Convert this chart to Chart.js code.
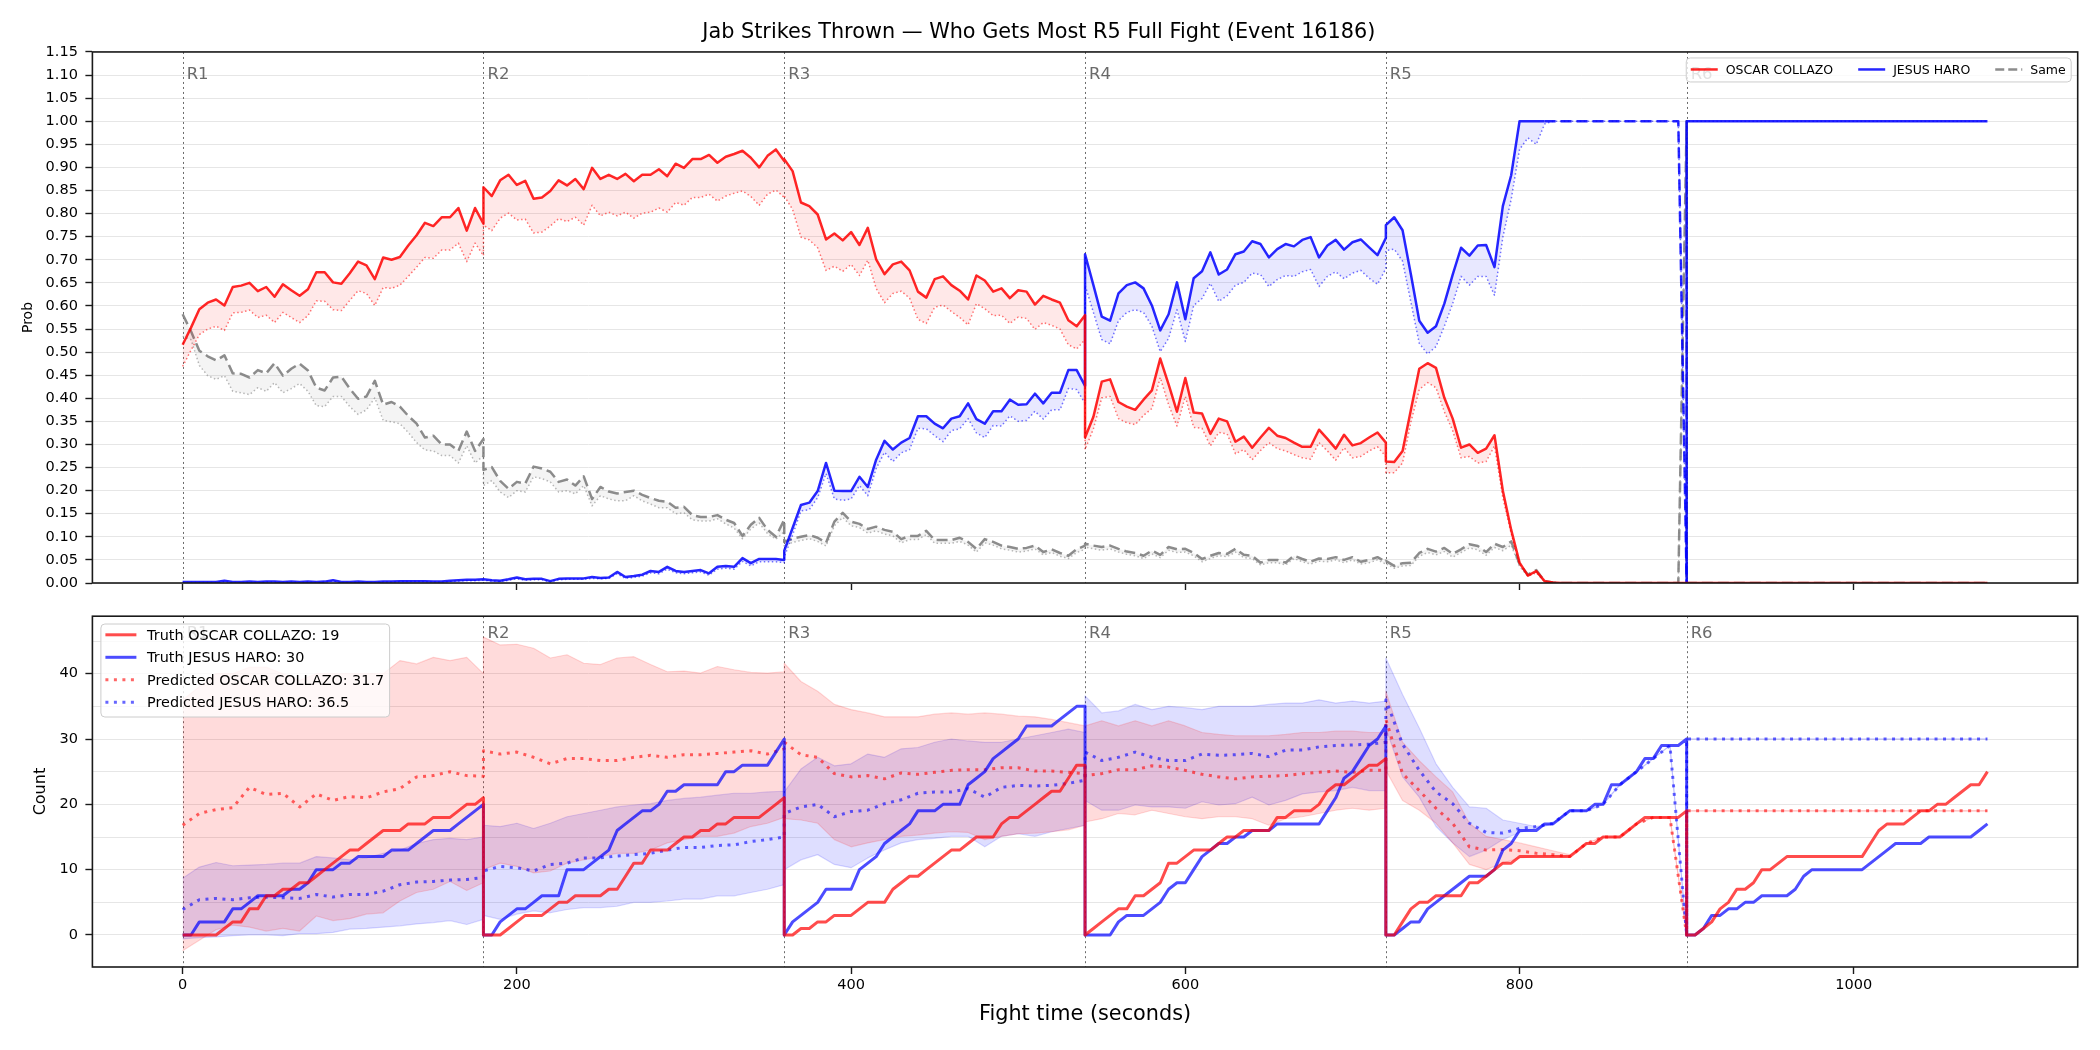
<!DOCTYPE html>
<html>
<head>
<meta charset="utf-8">
<script src="https://cdn.jsdelivr.net/npm/chart.js@4.4.1/dist/chart.umd.min.js"></script>
<style>
  body { margin: 0; background: #fff; width: 2100px; height: 1050px; overflow: hidden; position: relative; }
  canvas { position: absolute; left: 0; }
  #top { top: 0; }
  #bottom { top: 600px; }
</style>
</head>
<body>
<canvas id="top" width="2100" height="600"></canvas>
<canvas id="bottom" width="2100" height="450"></canvas>
<script>
// ---- data ----
const fighters = ['OSCAR COLLAZO', 'JESUS HARO'];
const roundNames = ['R1', 'R2', 'R3', 'R4', 'R5', 'R6'];
const roundStarts = [0, 180, 360, 540, 720, 900];
const xTicks = [0, 200, 400, 600, 800, 1000];
const truthTotals = [19, 30];
const predTotals = [31.7, 36.5];

// win probability, sampled every 5 s inside each round (37 points per round)
const probRed = [
  0.516,0.553,0.593,0.607,0.614,0.601,0.641,0.644,0.650,0.632,0.641,0.620,0.647,0.634,0.622,0.636,0.673,0.673,0.651,0.648,0.671,0.696,0.688,0.658,0.705,0.700,0.706,0.731,0.753,0.780,0.773,0.792,0.792,0.812,0.763,0.812,0.778,
  0.857,0.838,0.872,0.884,0.862,0.871,0.832,0.835,0.849,0.872,0.861,0.875,0.853,0.899,0.875,0.884,0.875,0.886,0.870,0.884,0.884,0.896,0.881,0.908,0.899,0.918,0.918,0.927,0.910,0.923,0.929,0.936,0.921,0.900,0.925,0.939,0.914,
  0.918,0.892,0.824,0.816,0.798,0.744,0.757,0.742,0.760,0.732,0.769,0.701,0.669,0.690,0.696,0.677,0.631,0.618,0.658,0.664,0.645,0.633,0.614,0.666,0.655,0.631,0.638,0.617,0.634,0.631,0.603,0.622,0.614,0.607,0.569,0.556,0.580,
  0.315,0.360,0.436,0.441,0.392,0.382,0.375,0.397,0.417,0.486,0.430,0.371,0.444,0.369,0.367,0.323,0.356,0.350,0.306,0.317,0.293,0.315,0.336,0.319,0.314,0.304,0.295,0.295,0.332,0.312,0.291,0.321,0.298,0.303,0.315,0.326,0.304,
  0.263,0.262,0.286,0.375,0.464,0.476,0.466,0.401,0.356,0.293,0.300,0.282,0.291,0.320,0.200,0.115,0.044,0.016,0.026,0.004,0.001,0,0,0,0,0,0,0,0,0,0,0,0,0,0,0,0,
  0,0,0,0,0,0,0,0,0,0,0,0,0,0,0,0,0,0,0,0,0,0,0,0,0,0,0,0,0,0,0,0,0,0,0,0,0
];
const probRedLow = [
  0.469,0.504,0.538,0.550,0.556,0.547,0.585,0.586,0.591,0.575,0.580,0.564,0.586,0.575,0.564,0.579,0.611,0.610,0.592,0.590,0.612,0.633,0.627,0.601,0.640,0.638,0.645,0.664,0.684,0.705,0.703,0.721,0.721,0.736,0.696,0.736,0.709,
  0.775,0.763,0.790,0.801,0.786,0.788,0.758,0.760,0.773,0.789,0.783,0.792,0.775,0.818,0.795,0.803,0.795,0.803,0.790,0.801,0.803,0.812,0.803,0.824,0.818,0.835,0.835,0.842,0.827,0.838,0.844,0.849,0.837,0.818,0.842,0.851,0.835,
  0.838,0.809,0.749,0.743,0.726,0.677,0.686,0.675,0.690,0.666,0.699,0.638,0.607,0.627,0.632,0.617,0.571,0.562,0.597,0.602,0.588,0.575,0.559,0.605,0.594,0.579,0.580,0.562,0.576,0.573,0.549,0.564,0.558,0.550,0.516,0.507,0.527,
  0.289,0.334,0.401,0.404,0.356,0.347,0.343,0.363,0.378,0.445,0.386,0.340,0.404,0.337,0.335,0.297,0.326,0.323,0.280,0.289,0.267,0.287,0.304,0.291,0.286,0.278,0.271,0.268,0.304,0.286,0.266,0.293,0.271,0.274,0.286,0.295,0.274,
  0.239,0.239,0.260,0.349,0.419,0.434,0.423,0.371,0.330,0.271,0.274,0.260,0.263,0.297,0.185,0.107,0.041,0.015,0.022,0.003,0.001,0,0,0,0,0,0,0,0,0,0,0,0,0,0,0,0,
  0,0,0,0,0,0,0,0,0,0,0,0,0,0,0,0,0,0,0,0,0,0,0,0,0,0,0,0,0,0,0,0,0,0,0,0,0
];
const probBlue = [
  0.002,0.002,0.002,0.002,0.002,0.005,0.002,0.002,0.003,0.002,0.003,0.003,0.002,0.003,0.002,0.003,0.002,0.003,0.006,0.002,0.002,0.003,0.002,0.002,0.003,0.003,0.004,0.004,0.004,0.004,0.003,0.003,0.005,0.006,0.007,0.007,0.008,
  0.008,0.006,0.005,0.008,0.012,0.008,0.009,0.009,0.004,0.009,0.010,0.010,0.010,0.013,0.011,0.012,0.024,0.013,0.015,0.018,0.026,0.024,0.035,0.026,0.024,0.026,0.028,0.021,0.035,0.037,0.035,0.054,0.043,0.052,0.052,0.052,0.050,
  0.070,0.119,0.169,0.174,0.199,0.260,0.200,0.199,0.199,0.230,0.208,0.267,0.308,0.289,0.304,0.314,0.361,0.361,0.345,0.335,0.356,0.361,0.389,0.355,0.345,0.372,0.372,0.397,0.386,0.387,0.410,0.389,0.412,0.412,0.461,0.461,0.427,
  0.712,0.645,0.577,0.568,0.627,0.645,0.651,0.638,0.601,0.547,0.582,0.651,0.571,0.660,0.675,0.716,0.668,0.679,0.712,0.718,0.740,0.734,0.705,0.723,0.734,0.729,0.743,0.749,0.705,0.731,0.743,0.722,0.738,0.744,0.727,0.710,0.747,
  0.775,0.792,0.764,0.668,0.568,0.542,0.556,0.605,0.668,0.726,0.709,0.731,0.732,0.684,0.816,0.883,1,1,1,1,1,1,1,1,1,1,1,1,1,1,1,1,1,1,1,1,0,
  1,1,1,1,1,1,1,1,1,1,1,1,1,1,1,1,1,1,1,1,1,1,1,1,1,1,1,1,1,1,1,1,1,1,1,1,1
];
const probBlueLow = [
  0.001,0.001,0.001,0.001,0.001,0.003,0.001,0.001,0.002,0.001,0.002,0.002,0.001,0.002,0.001,0.002,0.001,0.002,0.004,0.001,0.001,0.002,0.001,0.001,0.002,0.002,0.003,0.003,0.003,0.003,0.002,0.002,0.003,0.004,0.005,0.005,0.006,
  0.006,0.004,0.003,0.006,0.009,0.006,0.007,0.007,0.002,0.007,0.008,0.008,0.008,0.010,0.009,0.010,0.020,0.010,0.012,0.015,0.022,0.020,0.030,0.022,0.020,0.022,0.024,0.017,0.030,0.032,0.030,0.047,0.037,0.046,0.046,0.046,0.044,
  0.056,0.104,0.156,0.159,0.185,0.237,0.182,0.179,0.182,0.211,0.189,0.248,0.283,0.263,0.282,0.289,0.335,0.334,0.319,0.306,0.330,0.334,0.356,0.325,0.315,0.341,0.340,0.362,0.350,0.352,0.372,0.355,0.375,0.375,0.421,0.419,0.389,
  0.645,0.586,0.527,0.518,0.568,0.586,0.592,0.586,0.556,0.501,0.530,0.592,0.523,0.601,0.616,0.649,0.610,0.622,0.645,0.651,0.671,0.668,0.642,0.657,0.666,0.664,0.674,0.679,0.642,0.664,0.674,0.659,0.671,0.677,0.660,0.647,0.681,
  0.720,0.723,0.697,0.608,0.519,0.496,0.512,0.556,0.605,0.664,0.645,0.664,0.664,0.623,0.749,0.831,0.939,0.964,0.950,0.994,1,1,1,1,1,1,1,1,1,1,1,1,1,1,1,1,0,
  1,1,1,1,1,1,1,1,1,1,1,1,1,1,1,1,1,1,1,1,1,1,1,1,1,1,1,1,1,1,1,1,1,1,1,1,1
];
const probSame = [
  0.582,0.545,0.503,0.491,0.482,0.493,0.454,0.453,0.445,0.461,0.454,0.476,0.449,0.464,0.475,0.460,0.423,0.417,0.445,0.447,0.421,0.399,0.404,0.438,0.386,0.392,0.382,0.362,0.345,0.315,0.319,0.300,0.300,0.286,0.328,0.286,0.312,
  0.245,0.251,0.221,0.204,0.219,0.215,0.252,0.248,0.241,0.219,0.224,0.211,0.231,0.182,0.208,0.198,0.194,0.197,0.200,0.191,0.184,0.178,0.176,0.163,0.165,0.147,0.143,0.143,0.147,0.137,0.130,0.102,0.126,0.141,0.115,0.100,0.137,
  0.089,0.096,0.100,0.104,0.098,0.087,0.133,0.152,0.133,0.128,0.117,0.122,0.115,0.111,0.095,0.102,0.102,0.113,0.093,0.093,0.093,0.098,0.089,0.074,0.095,0.089,0.081,0.078,0.074,0.076,0.081,0.067,0.073,0.065,0.059,0.073,0.081,
  0.085,0.081,0.078,0.081,0.074,0.068,0.065,0.059,0.070,0.061,0.078,0.073,0.074,0.065,0.052,0.059,0.065,0.063,0.074,0.061,0.059,0.044,0.050,0.050,0.044,0.059,0.052,0.046,0.053,0.052,0.056,0.050,0.056,0.046,0.050,0.056,0.046,
  0.048,0.037,0.043,0.044,0.065,0.074,0.068,0.076,0.063,0.073,0.084,0.080,0.067,0.085,0.078,0.090,0.041,0.018,0.028,0.004,0.001,0,0,0,0,0,0,0,0,0,0,0,0,0,0,0,1,
  0,0,0,0,0,0,0,0,0,0,0,0,0,0,0,0,0,0,0,0,0,0,0,0,0,0,0,0,0,0,0,0,0,0,0,0,0
];
const probSameLow = [
  0.534,0.527,0.471,0.449,0.441,0.449,0.415,0.412,0.408,0.423,0.415,0.434,0.412,0.421,0.432,0.415,0.384,0.382,0.404,0.404,0.382,0.365,0.375,0.401,0.352,0.349,0.345,0.326,0.304,0.288,0.286,0.276,0.276,0.260,0.297,0.260,0.276,
  0.211,0.222,0.197,0.185,0.200,0.197,0.230,0.226,0.219,0.197,0.200,0.193,0.211,0.167,0.189,0.182,0.178,0.178,0.189,0.178,0.171,0.163,0.163,0.150,0.152,0.137,0.134,0.134,0.139,0.128,0.119,0.096,0.117,0.130,0.107,0.095,0.111,
  0.080,0.088,0.092,0.096,0.090,0.080,0.124,0.142,0.124,0.120,0.108,0.113,0.106,0.102,0.087,0.094,0.094,0.105,0.086,0.086,0.086,0.090,0.082,0.067,0.087,0.082,0.074,0.071,0.067,0.069,0.074,0.061,0.066,0.058,0.053,0.066,0.073,
  0.078,0.074,0.071,0.074,0.067,0.062,0.059,0.053,0.063,0.055,0.071,0.066,0.067,0.059,0.046,0.053,0.059,0.057,0.067,0.055,0.053,0.039,0.044,0.044,0.039,0.053,0.046,0.041,0.047,0.046,0.050,0.044,0.050,0.041,0.044,0.050,0.041,
  0.042,0.032,0.037,0.038,0.058,0.066,0.061,0.068,0.056,0.066,0.076,0.072,0.060,0.077,0.070,0.082,0.036,0.015,0.024,0.003,0.001,0,0,0,0,0,0,0,0,0,0,0,0,0,0,0,1,
  0,0,0,0,0,0,0,0,0,0,0,0,0,0,0,0,0,0,0,0,0,0,0,0,0,0,0,0,0,0,0,0,0,0,0,0,0
];

// actual jab counts within each round, every 5 s
const truthRed = [
  0,0,0,0,0,1,2,2,4,4,6,6,7,7,8,8,9,10,11,12,13,13,14,15,16,16,16,17,17,17,18,18,18,19,20,20,21,
  0,0,0,1,2,3,3,3,4,5,5,6,6,6,6,7,7,9,11,11,13,13,13,14,15,15,16,16,17,17,18,18,18,18,19,20,21,
  0,0,1,1,2,2,3,3,3,4,5,5,5,7,8,9,9,10,11,12,13,13,14,15,15,15,17,18,18,19,20,21,22,22,24,26,26,
  0,1,2,3,4,4,6,6,7,8,11,11,12,13,13,13,14,15,15,16,16,16,16,18,18,19,19,19,20,22,23,23,24,25,26,26,27,
  0,0,2,4,5,5,6,6,6,6,8,8,9,10,11,11,12,12,12,12,12,12,12,13,14,14,15,15,15,16,17,18,18,18,18,18,19,
  0,0,1,2,4,5,7,7,8,10,10,11,12,12,12,12,12,12,12,12,12,12,14,16,17,17,17,18,19,19,20,20,21,22,23,23,25
];
const truthBlue = [
  0,0,2,2,2,2,4,4,5,6,6,6,6,7,7,8,10,10,10,11,11,12,12,12,12,13,13,13,14,15,16,16,16,17,18,19,20,
  0,0,2,3,4,4,5,6,6,6,10,10,10,11,12,13,16,17,18,19,19,20,22,22,23,23,23,23,23,25,25,26,26,26,26,28,30,
  0,2,3,4,5,7,7,7,7,10,11,12,14,15,16,17,19,19,19,20,20,20,23,24,25,27,28,29,30,32,32,32,32,33,34,35,35,
  0,0,0,0,2,3,3,3,4,5,7,8,8,10,12,13,14,14,15,15,16,16,16,17,17,17,17,17,17,19,21,24,25,27,29,30,32,
  0,0,1,2,2,4,5,6,7,8,9,9,9,10,13,14,16,16,16,17,17,18,19,19,19,20,20,23,23,24,25,27,27,29,29,29,30,
  0,0,1,3,3,4,4,5,5,6,6,6,6,7,9,10,10,10,10,10,10,10,11,12,13,14,14,14,14,15,15,15,15,15,15,16,17
];

// predicted counts and their bands, every 10 s (19 points per round)
const predRed = [
  16.8,18.6,19.2,19.5,22.6,21.5,21.7,19.6,21.6,20.6,21.2,21.0,21.9,22.4,24.2,24.4,25.0,24.4,24.3,
  28.2,27.7,28.0,27.2,26.2,27.0,27.0,26.7,26.7,27.2,27.5,27.2,27.6,27.6,27.8,28.0,28.2,27.7,28.5,
  29.5,27.6,27.2,24.7,24.2,24.4,23.9,24.8,24.6,24.9,25.2,25.3,25.3,25.6,25.6,25.1,25.1,24.9,24.7,
  24.4,24.7,25.3,25.3,25.9,25.7,25.2,24.6,24.2,23.9,24.2,24.3,24.4,24.7,24.9,25.1,24.9,25.2,25.2,
  33.0,24.7,22.1,19.4,17.1,13.5,13.0,13.1,12.9,12.5,12.3,12.0,14,15,15,17,18,18,0,
  19,19,19,19,19,19,19,19,19,19,19,19,19,19,19,19,19,19,19
];
const predBlue = [
  3.9,5.4,5.6,5.4,5.7,5.8,5.7,5.6,6.2,5.8,6.2,6.2,6.7,7.7,8.1,8.2,8.4,8.5,8.8,
  9.8,10.5,10.3,9.8,10.8,11.0,11.8,11.8,12.1,12.3,12.5,13.0,13.4,13.4,13.7,13.8,14.3,14.6,15.0,
  18.6,19.6,20.0,18.1,18.9,19.1,20.1,20.7,21.7,21.9,21.9,22.4,21.1,22.6,22.9,22.8,22.9,23.2,23.7,
  28.0,26.7,27.2,28.0,27.2,26.7,26.7,27.7,27.5,27.6,27.8,27.3,28.3,28.3,28.8,29.0,29.1,29.2,29.5,
  36.0,29.2,25.2,21.9,20.1,17.1,15.7,15.6,16.3,16.6,17.1,19.0,19,20,23,25,27,29,0,
  30,30,30,30,30,30,30,30,30,30,30,30,30,30,30,30,30,30,30
];
const bandRedHi = [
  36,38,40,40,41,41,40,39,40,40,40,40,40,42,41.5,42.5,42,42.5,40,
  45.6,44.4,44.5,43.9,42.4,42.9,41.6,41.4,42.4,42.6,41.4,40.3,40.4,40.1,41.1,40.6,40.2,40.1,40.3,
  41.6,38.8,37.3,35.3,34.5,34.0,33.4,33.4,33.4,33.8,34.0,33.8,34.0,33.8,33.5,33.4,33.0,32.5,32.0,
  32.0,32.8,32.0,32.8,32.0,32.8,32.0,31.0,30.7,30.5,30.5,30.5,30.7,31.0,31.0,31.2,31.2,31.0,31.0,
  37.3,29.5,26.7,24.2,21.9,17.1,15.1,14.6,14.1,13.5,12.9,12.3,14,15,15,17,18,18,0,
  19,19,19,19,19,19,19,19,19,19,19,19,19,19,19,19,19,19,19
];
const bandRedLo = [
  -2.4,-0.8,0.8,1.5,1.2,0.6,1.0,0.6,2.9,2.2,2.5,3.2,3.4,5.2,6.5,7.0,8.2,6.8,8.0,
  10.0,11.0,10.5,9.5,9.8,11.0,11.5,12.0,12.5,12.5,13.0,14.1,14.6,15.1,15.1,15.6,16.6,17.1,18.0,
  17.8,17.6,17.1,14.6,13.5,14.1,14.6,15.1,15.3,15.6,15.8,15.7,14.6,15.1,15.5,15.6,15.8,16.1,16.8,
  17.3,17.8,18.6,18.4,19.1,18.6,18.1,17.8,18.1,18.1,17.8,16.8,17.8,18.1,18.6,19.1,19.4,19.1,19.4,
  25.2,20.6,19.1,17.1,14.1,10.8,10.0,11.0,11.8,12.0,12.0,12.0,14,15,15,17,18,18,0,
  19,19,19,19,19,19,19,19,19,19,19,19,19,19,19,19,19,19,19
];
const bandBlueHi = [
  8.7,10.4,11.1,10.6,10.7,10.8,11.0,11.0,12.0,11.8,11.5,11.8,12.5,13.0,14.0,14.6,14.8,14.6,15.0,
  16.8,16.6,17.1,16.3,17.1,18.1,18.6,19.1,19.6,19.9,20.1,20.6,20.9,21.1,21.4,21.7,21.7,21.9,22.0,
  21.9,25.4,27.2,25.9,26.2,27.7,27.2,28.5,28.7,29.5,30.0,29.7,29.5,29.5,30.0,30.5,31.0,31.5,31.0,
  36.6,34.0,34.3,35.3,34.5,35.0,34.8,34.5,35.0,35.0,35.0,35.3,35.5,35.5,36.0,35.5,35.8,35.5,35.8,
  42.4,36.8,31.7,26.2,22.6,19.6,19.4,17.6,17.1,16.6,17.1,19.1,19,20,23,25,27,29,0,
  30,30,30,30,30,30,30,30,30,30,30,30,30,30,30,30,30,30,30
];
const bandBlueLo = [
  -0.6,-0.4,-0.3,-0.1,0,0,-0.1,0.2,0.2,0.4,0.9,1.0,1.2,1.4,1.7,1.9,2.2,1.6,2.4,
  3.0,2.4,3.2,3.7,3.4,3.9,4.2,4.2,4.4,5.0,5.0,5.2,5.5,5.5,6.0,6.0,6.5,7.0,7.7,
  10.0,11.5,12.3,10.8,10.3,11.8,13.0,14.1,14.6,14.8,15.1,15.1,13.5,15.1,15.5,15.1,15.8,16.3,16.8,
  20.6,19.1,19.1,19.9,19.6,19.6,19.4,20.4,19.9,20.1,21.1,19.9,20.6,21.6,21.9,22.1,22.6,22.1,22.1,
  31.7,24.2,21.1,16.6,14.1,12.0,13.0,14.6,15.7,16.3,17.0,19.1,19,20,23,25,27,29,0,
  30,30,30,30,30,30,30,30,30,30,30,30,30,30,30,30,30,30,30
];

// ---- helpers ----
const FONT = 'DejaVu Sans';
Chart.defaults.font.family = FONT;
Chart.defaults.color = '#000';

const t5 = roundStarts.flatMap(s => Array.from({length: 37}, (_, k) => s + 5 * k));
const t10 = roundStarts.flatMap(s => Array.from({length: 19}, (_, k) => s + 10 * k));
const pts = (ts, ys) => ys.map((y, i) => ({x: ts[i], y}));
const r6First = 5 * 37;

function line(label, ts, ys, color, width, dash, extra) {
  return Object.assign({
    label, data: pts(ts, ys), borderColor: color, borderWidth: width,
    borderDash: dash || [], pointRadius: 0, tension: 0, fill: false,
    borderJoinStyle: 'round'
  }, extra || {});
}

const roundLines = {
  id: 'roundLines',
  beforeDatasetsDraw(chart) {
    const {ctx, chartArea: a, scales: {x}} = chart;
    ctx.save();
    ctx.strokeStyle = 'rgba(70,70,70,0.8)';
    ctx.lineWidth = 1;
    ctx.setLineDash([2, 3]);
    roundStarts.forEach(t => {
      const px = Math.round(x.getPixelForValue(t)) + 0.5;
      ctx.beginPath(); ctx.moveTo(px, a.top); ctx.lineTo(px, a.bottom); ctx.stroke();
    });
    ctx.restore();
  },
  afterDatasetsDraw(chart, args, o) {
    const {ctx, chartArea: a, scales: {x}} = chart;
    ctx.save();
    ctx.font = '16.5px "' + FONT + '"';
    ctx.fillStyle = 'rgba(90,90,90,0.9)';
    ctx.textBaseline = 'middle';
    roundStarts.forEach((t, i) => ctx.fillText(roundNames[i], x.getPixelForValue(t) + 4, a.top + o.dy));
    ctx.restore();
  }
};

const boxLegend = {
  id: 'boxLegend',
  afterDatasetsDraw(chart, args, o) {
    const {ctx, chartArea: a} = chart;
    ctx.save();
    ctx.font = o.size + 'px "' + FONT + '"';
    const widths = o.items.map(it => ctx.measureText(it.label).width);
    let w;
    if (o.row) w = o.pad * 2 + widths.reduce((s, tw) => s + o.handle + o.gap + tw, 0) + o.colGap * (o.items.length - 1);
    else w = o.pad * 2 + o.handle + o.gap + Math.max(...widths);
    const h = o.height;
    const left = o.right != null ? a.right - o.right - w : a.left + o.left;
    const top = a.top + o.top;
    ctx.beginPath();
    ctx.roundRect(left + 0.5, top + 0.5, w, h, 4);
    ctx.fillStyle = 'rgba(255,255,255,0.8)';
    ctx.fill();
    ctx.strokeStyle = '#cccccc';
    ctx.lineWidth = 1;
    ctx.stroke();
    ctx.textBaseline = 'middle';
    let x = left + o.pad;
    o.items.forEach((it, i) => {
      const y = o.row ? top + h / 2 : top + o.first + i * o.rowH;
      const hx = o.row ? x : left + o.pad;
      ctx.beginPath();
      ctx.setLineDash(it.dash || []);
      ctx.strokeStyle = it.color;
      ctx.lineWidth = it.width;
      ctx.moveTo(hx, y); ctx.lineTo(hx + o.handle, y); ctx.stroke();
      ctx.setLineDash([]);
      ctx.fillStyle = '#000';
      ctx.fillText(it.label, hx + o.handle + o.gap, y + 1);
      if (o.row) x += o.handle + o.gap + widths[i] + o.colGap;
    });
    ctx.restore();
  }
};

const frame = {
  id: 'frame',
  afterDraw(chart) {
    const {ctx, chartArea: a} = chart;
    ctx.save();
    ctx.strokeStyle = '#1a1a1a';
    ctx.lineWidth = 1.6;
    ctx.strokeRect(a.left, a.top, a.right - a.left, a.bottom - a.top);
    ctx.restore();
  }
};

const xCommon = {
  type: 'linear', min: -54, max: 1134,
  border: {display: false},
  grid: {drawOnChartArea: false, tickLength: 7, tickColor: '#1a1a1a', tickWidth: 1.4},
  afterBuildTicks: s => { s.ticks = xTicks.map(v => ({value: v})); }
};

const RED = 'rgba(255,0,0,0.85)', BLUE = 'rgba(0,0,255,0.85)', GREY = 'rgba(128,128,128,0.9)';

// ---- top: probabilities ----
new Chart(document.getElementById('top'), {
  type: 'line',
  data: {
    datasets: [
      line(fighters[0], t5, probRed, RED, 2.5),
      line(fighters[0] + ' low', t5, probRedLow, 'rgba(255,0,0,0.55)', 1.5, [1.5, 2.5],
        {fill: '-1', backgroundColor: 'rgba(255,0,0,0.09)'}),
      line(fighters[1], t5, probBlue, BLUE, 2.5, [],
        {segment: {borderDash: c => (c.p0.parsed.x >= 815 && c.p1DataIndex < r6First) ? [11, 5] : undefined}}),
      line(fighters[1] + ' low', t5, probBlueLow, 'rgba(0,0,255,0.55)', 1.5, [1.5, 2.5],
        {fill: '-1', backgroundColor: 'rgba(0,0,255,0.09)'}),
      line('Same', t5, probSame, GREY, 2.5, [11, 5]),
      line('Same low', t5, probSameLow, 'rgba(128,128,128,0.55)', 1.5, [1.5, 2.5],
        {fill: '-1', backgroundColor: 'rgba(128,128,128,0.09)'})
    ]
  },
  options: {
    responsive: false, animation: false, devicePixelRatio: 1, events: [],
    layout: {padding: {left: 0, right: 22.3, top: 0, bottom: 7}},
    plugins: {
      legend: {display: false}, tooltip: {enabled: false},
      title: {
        display: true, text: 'Jab Strikes Thrown — Who Gets Most R5 Full Fight (Event 16186)',
        font: {size: 20.8, weight: 'normal'}, color: '#000', padding: {top: 20, bottom: 7}
      },
      roundLines: {dy: 23},
      boxLegend: {
        row: true, size: 12.5, pad: 5, handle: 27, gap: 8, colGap: 25, height: 24, right: 7, top: 5.5,
        items: [
          {label: fighters[0], color: RED, width: 2.5},
          {label: fighters[1], color: BLUE, width: 2.5},
          {label: 'Same', color: GREY, width: 2.5, dash: [9, 4]}
        ]
      }
    },
    scales: {
      x: Object.assign({}, xCommon, {
        ticks: {display: false},
        afterFit: s => { s.height = 10; }
      }),
      y: {
        min: 0, max: 1.15,
        border: {display: false},
        ticks: {stepSize: 0.05, autoSkip: false, includeBounds: false, padding: 7.5,
          font: {size: 14.5}, callback: v => v.toFixed(2)},
        grid: {color: '#e6e6e6', lineWidth: 1, tickLength: 7, tickColor: '#1a1a1a', tickWidth: 1.4},
        title: {display: true, text: 'Prob', font: {size: 14}, padding: {top: 19.6, bottom: 0}},
        afterFit: s => { s.width = 92.4; }
      }
    }
  },
  plugins: [roundLines, boxLegend, frame]
});

// ---- bottom: counts ----
new Chart(document.getElementById('bottom'), {
  type: 'line',
  data: {
    datasets: [
      line('Truth ' + fighters[0], t5, truthRed, 'rgba(255,0,0,0.7)', 3),
      line('Truth ' + fighters[1], t5, truthBlue, 'rgba(0,0,255,0.7)', 3),
      line('Predicted ' + fighters[0], t10, predRed, 'rgba(255,0,0,0.6)', 3, [3, 5.5]),
      line('Predicted ' + fighters[1], t10, predBlue, 'rgba(0,0,255,0.6)', 3, [3, 5.5]),
      line('red band hi', t10, bandRedHi, 'rgba(255,0,0,0.15)', 1.2),
      line('red band lo', t10, bandRedLo, 'rgba(255,0,0,0.15)', 1.2, [],
        {fill: '-1', backgroundColor: 'rgba(255,0,0,0.14)'}),
      line('blue band hi', t10, bandBlueHi, 'rgba(0,0,255,0.15)', 1.2),
      line('blue band lo', t10, bandBlueLo, 'rgba(0,0,255,0.15)', 1.2, [],
        {fill: '-1', backgroundColor: 'rgba(0,0,255,0.13)'})
    ]
  },
  options: {
    responsive: false, animation: false, devicePixelRatio: 1, events: [],
    layout: {padding: {left: 0, right: 22.3, top: 14.7, bottom: 0}},
    plugins: {
      legend: {display: false}, tooltip: {enabled: false},
      roundLines: {dy: 17.5},
      boxLegend: {
        row: false, size: 14.4, pad: 5, handle: 31, gap: 10.7, height: 93, left: 8, top: 7.3, first: 11.3, rowH: 22.5,
        items: [
          {label: 'Truth ' + fighters[0] + ': ' + truthTotals[0], color: 'rgba(255,0,0,0.7)', width: 3},
          {label: 'Truth ' + fighters[1] + ': ' + truthTotals[1], color: 'rgba(0,0,255,0.7)', width: 3},
          {label: 'Predicted ' + fighters[0] + ': ' + predTotals[0], color: 'rgba(255,0,0,0.6)', width: 3, dash: [3, 5.5]},
          {label: 'Predicted ' + fighters[1] + ': ' + predTotals[1], color: 'rgba(0,0,255,0.6)', width: 3, dash: [3, 5.5]}
        ]
      }
    },
    scales: {
      x: Object.assign({}, xCommon, {
        ticks: {padding: 3, font: {size: 14.5}, maxRotation: 0, autoSkip: false, callback: v => String(v)},
        title: {display: true, text: 'Fight time (seconds)', font: {size: 20.8}, padding: {top: 0, bottom: 22.5}},
        afterFit: s => { s.height = 83; }
      }),
      y: {
        min: -4.9, max: 48.8,
        border: {display: false},
        ticks: {stepSize: 5, autoSkip: false, includeBounds: false, padding: 7.5, font: {size: 14.5},
          callback: v => (v % 10 === 0 ? String(v) : '')},
        grid: {color: '#e6e6e6', lineWidth: 1, tickLength: 7, tickWidth: 1.4,
          tickColor: c => (c.tick && c.tick.value % 10 === 0 ? '#1a1a1a' : 'rgba(0,0,0,0)')},
        title: {display: true, text: 'Count', font: {size: 16}, padding: {top: 31.4, bottom: 0}},
        afterFit: s => { s.width = 92.4; }
      }
    }
  },
  plugins: [roundLines, boxLegend, frame]
});
</script>
</body>
</html>
